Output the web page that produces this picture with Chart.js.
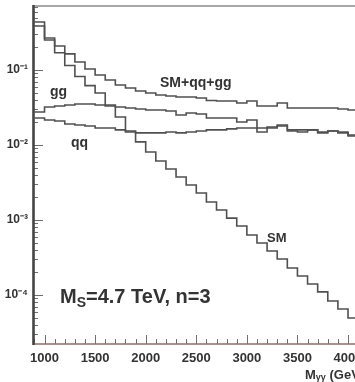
<!DOCTYPE html>
<html><head><meta charset="utf-8">
<style>html,body{margin:0;padding:0;background:#fff;overflow:hidden}#wrap{position:relative;width:355px;height:382px}</style>
<script src="https://cdn.jsdelivr.net/npm/chart.js@4.4.1/dist/chart.umd.min.js"></script>
</head><body><div id="wrap"><canvas id="c" width="355" height="382"></canvas></div>
<script>
// bin low edges (GeV), 100 GeV bins
const binLow = [900,1000,1100,1200,1300,1400,1500,1600,1700,1800,1900,2000,2100,2200,2300,2400,2500,2600,2700,2800,2900,3000,3100,3200,3300,3400,3500,3600,3700,3800,3900,4000];
const smTotal = [0.437,0.267,0.209,0.164,0.128,0.103,0.0858,0.0736,0.0631,0.0576,0.0525,0.0494,0.0465,0.0450,0.0437,0.0437,0.0424,0.0392,0.0386,0.0386,0.0363,0.0386,0.0331,0.0331,0.0363,0.0312,0.0312,0.0312,0.0312,0.0312,0.0302,0.0293];
const smOnly = [0.386,0.251,0.170,0.115,0.082,0.0620,0.0494,0.0342,0.0236,0.0154,0.0110,0.00807,0.00612,0.00479,0.00375,0.00293,0.00229,0.00174,0.00136,0.00106,0.000832,0.000632,0.000494,0.000386,0.000302,0.000229,0.000179,0.000140,0.000110,0.0000832,0.0000651,0.0000494];
const ggOnly = [0.0276,0.0321,0.0331,0.0342,0.0352,0.0352,0.0342,0.0331,0.0321,0.0312,0.0302,0.0293,0.0293,0.0284,0.0251,0.0267,0.0259,0.0229,0.0229,0.0229,0.0203,0.0216,0.0169,0.0174,0.0185,0.0154,0.0149,0.0159,0.0149,0.0154,0.0149,0.0136];
const qqOnly = [0.0229,0.0216,0.0209,0.0191,0.0185,0.0179,0.0169,0.0169,0.0159,0.0149,0.0145,0.0145,0.0145,0.0149,0.0145,0.0149,0.0154,0.0159,0.0159,0.0164,0.0169,0.0169,0.0149,0.0169,0.0179,0.0159,0.0159,0.0159,0.0145,0.0154,0.0145,0.0132];
const xTickValues = [1000,1500,2000,2500,3000,3500,4000];
const yTickValues = [1e-4,1e-3,1e-2,1e-1];
const yTickLabels = ['10\u207B\u2074','10\u207B\u00B3','10\u207B\u00B2','10\u207B\u00B9'];
const labels = [
  {parts:[['SM+qq+gg',14,0]], x:2141, y:0.067},
  {parts:[['gg',14,0]], x:1054, y:0.0509},
  {parts:[['qq',14,0]], x:1262, y:0.0105},
  {parts:[['SM',13,0]], x:3199, y:0.000575},
  {parts:[['M',20,0],['S',14,6],['=4.7 TeV, n=3',20,0]], x:1153, y:0.000094}
];

const binW = binLow[1]-binLow[0];
function hist(vals){
  const pts = binLow.map((x,i)=>({x:x,y:vals[i]}));
  pts.push({x:binLow[binLow.length-1]+binW,y:vals[vals.length-1]});
  return pts;
}
const lineStyle = {borderColor:'#505050',borderWidth:1.6,pointRadius:0,stepped:'before',fill:false,tension:0};

const FONT = '"Liberation Sans", Arial, Helvetica, sans-serif';

const decor = {
  id:'decor',
  afterDatasetsDraw(chart){
    const ctx = chart.ctx, a = chart.chartArea, xs = chart.scales.x, ys = chart.scales.y;
    ctx.save();
    ctx.strokeStyle = '#707070'; ctx.lineWidth = 1;
    ctx.beginPath();
    for(let v=900; v<=4100; v+=100){
      const px = Math.round(xs.getPixelForValue(v))+0.5;
      if(px < a.left+1 || px > a.right) continue;
      const L = (v%500===0)?9:5;
      ctx.moveTo(px,a.bottom); ctx.lineTo(px,a.bottom-L);
    }
    for(let k=-5;k<=0;k++){
      for(let m=1;m<=9;m++){
        const v = m*Math.pow(10,k);
        if(v<ys.min||v>ys.max) continue;
        const py = Math.round(ys.getPixelForValue(v))+0.5;
        const L = (m===1)?10:5;
        ctx.moveTo(a.left,py); ctx.lineTo(a.left+L,py);
      }
    }
    ctx.stroke();
    ctx.strokeStyle = '#a8a8a8'; ctx.lineWidth = 2;
    ctx.beginPath(); ctx.moveTo(a.left,a.top+1); ctx.lineTo(a.right,a.top+1); ctx.stroke();
    ctx.strokeStyle = '#8a6e6e'; ctx.lineWidth = 1.5;
    ctx.beginPath(); ctx.moveTo(a.left,a.bottom); ctx.lineTo(a.right,a.bottom); ctx.stroke();
    ctx.strokeStyle = '#454545'; ctx.lineWidth = 2.6;
    ctx.beginPath(); ctx.moveTo(a.left+0.5,a.top); ctx.lineTo(a.left+0.5,a.bottom+1); ctx.stroke();
    ctx.fillStyle = '#333'; ctx.textBaseline = 'middle'; ctx.textAlign = 'left';
    labels.forEach(l=>{
      let px = xs.getPixelForValue(l.x); const py = ys.getPixelForValue(l.y);
      l.parts.forEach(p=>{
        ctx.font = 'bold '+p[1]+'px '+FONT;
        ctx.fillText(p[0],px,py+p[2]);
        px += ctx.measureText(p[0]).width;
      });
    });
    let tx = xs.getPixelForValue(3575); const ty = a.bottom+31;
    [['M',13,0],['\u03B3\u03B3',9,3],[' (GeV)',13,0]].forEach(p=>{
      ctx.font='bold '+p[1]+'px '+FONT; ctx.fillText(p[0],tx,ty+p[2]); tx+=ctx.measureText(p[0]).width;
    });
    ctx.restore();
  }
};

new Chart(document.getElementById('c'),{
  type:'line',
  data:{datasets:[
    Object.assign({label:'SM+qq+gg',data:hist(smTotal)},lineStyle),
    Object.assign({label:'SM',data:hist(smOnly)},lineStyle),
    Object.assign({label:'gg',data:hist(ggOnly)},lineStyle),
    Object.assign({label:'qq',data:hist(qqOnly)},lineStyle)
  ]},
  options:{
    responsive:false, animation:false, devicePixelRatio:1,
    layout:{padding:{top:5,right:0,left:0,bottom:0}},
    plugins:{legend:{display:false},tooltip:{enabled:false},title:{display:false}},
    scales:{
      x:{type:'linear',min:886,max:4069,
        afterFit(s){s.height=38;s.paddingLeft=0;s.paddingRight=0;},
        afterBuildTicks(s){s.ticks=xTickValues.map(v=>({value:v}));},
        ticks:{autoSkip:false,maxRotation:0,padding:7,color:'#333',font:{family:FONT,weight:'bold',size:13},callback:(v)=>String(v)},
        grid:{display:false,drawTicks:false},border:{display:false}},
      y:{type:'logarithmic',min:Math.pow(10,-4.653),max:Math.pow(10,-0.133),
        afterFit(s){s.width=33;s.paddingTop=0;s.paddingBottom=0;},
        afterBuildTicks(s){s.ticks=yTickValues.map(v=>({value:v}));},
        ticks:{autoSkip:false,padding:5,color:'#333',font:{family:FONT,weight:'bold',size:12},callback:(v,i)=>yTickLabels[i]},
        grid:{display:false,drawTicks:false},border:{display:false}}
    }
  },
  plugins:[decor]
});
</script></body></html>
